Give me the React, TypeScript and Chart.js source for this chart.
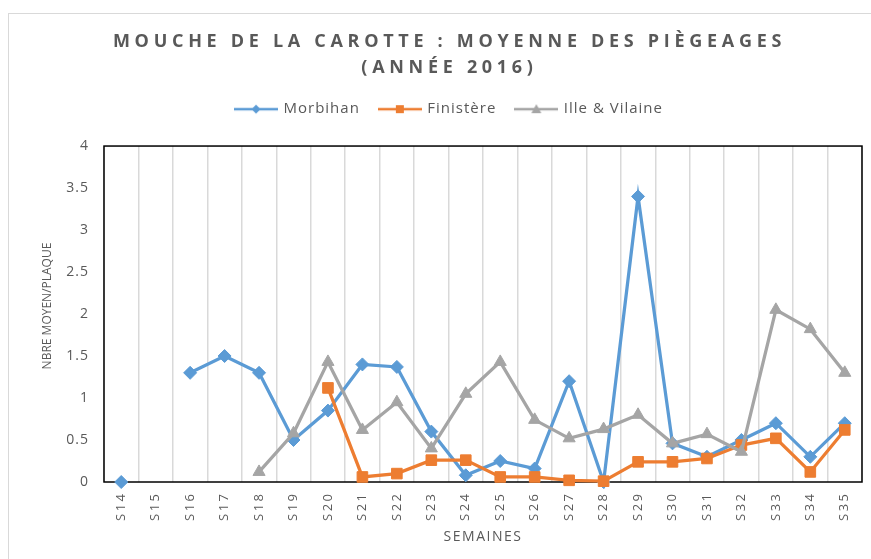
import React, { useEffect, useRef } from 'react';
import { Chart, registerables } from 'chart.js';

Chart.register(...registerables);

// ---- data ----
const titleLines = ['MOUCHE DE LA CAROTTE : MOYENNE DES PIÈGEAGES', '(ANNÉE 2016)'];
const weeks = ['S14', 'S15', 'S16', 'S17', 'S18', 'S19', 'S20', 'S21', 'S22', 'S23', 'S24', 'S25', 'S26', 'S27', 'S28', 'S29', 'S30', 'S31', 'S32', 'S33', 'S34', 'S35'];
const seriesNames = ['Morbihan', 'Finistère', 'Ille & Vilaine'];
const morbihan = [0, null, 1.3, 1.5, 1.3, 0.5, 0.85, 1.4, 1.37, 0.6, 0.08, 0.25, 0.16, 1.2, 0, 3.4, 0.46, 0.3, 0.5, 0.7, 0.3, 0.7];
const finistere = [null, null, null, null, null, null, 1.12, 0.06, 0.1, 0.26, 0.26, 0.06, 0.06, 0.02, 0.01, 0.24, 0.24, 0.28, 0.44, 0.52, 0.12, 0.62];
const illeVilaine = [null, null, null, null, 0.12, 0.58, 1.43, 0.62, 0.95, 0.4, 1.05, 1.43, 0.74, 0.52, 0.63, 0.8, 0.46, 0.57, 0.36, 2.05, 1.82, 1.3];
const yAxisTitle = 'NBRE MOYEN/PLAQUE';
const xAxisTitle = 'SEMAINES';

const BLUE = '#5B9BD5';
const ORANGE = '#ED7D31';
const GRAY = '#A5A5A5';
const TEXT = '#595959';
const FONT = "'Open Sans', sans-serif";

function makeIcon(color: string, shape: string) {
  const c = document.createElement('canvas');
  c.width = 44;
  c.height = 14;
  const g = c.getContext('2d')!;
  g.strokeStyle = color;
  g.fillStyle = color;
  g.lineWidth = 2.5;
  g.beginPath();
  g.moveTo(0, 7);
  g.lineTo(44, 7);
  g.stroke();
  g.beginPath();
  if (shape === 'diamond') {
    g.moveTo(22, 2.5);
    g.lineTo(26.5, 7);
    g.lineTo(22, 11.5);
    g.lineTo(17.5, 7);
    g.closePath();
  } else if (shape === 'square') {
    g.rect(18, 3, 8, 8);
  } else {
    g.moveTo(22, 2);
    g.lineTo(27, 11);
    g.lineTo(17, 11);
    g.closePath();
  }
  g.fill();
  return c;
}

function patch(obj: any, name: string, spacing: string, ctx: any, after?: (o: any) => void, translateY?: number) {
  if (!obj || obj['__patched_' + name]) return;
  const orig = obj[name];
  obj[name] = function (...args: any[]) {
    const prev = ctx.letterSpacing;
    ctx.letterSpacing = spacing;
    if (translateY) {
      ctx.save();
      ctx.translate(0, translateY);
    }
    try {
      const r = orig.apply(this, args);
      if (after) after(this);
      return r;
    } finally {
      if (translateY) ctx.restore();
      ctx.letterSpacing = prev;
    }
  };
  obj['__patched_' + name] = true;
}

const spacingPlugin = {
  id: 'spacingPlugin',
  beforeLayout(chart: any) {
    const ctx = chart.ctx;
    patch(chart.titleBlock, 'draw', '4.7px', ctx);
    patch(chart.legend, 'fit', '1px', ctx, (o: any) => { o.height += 19.4; });
    patch(chart.legend, 'draw', '1px', ctx);
    patch(chart.scales.x, 'drawLabels', '2.5px', ctx);
    patch(chart.scales.x, 'drawTitle', '1.5px', ctx);
    patch(chart.scales.y, 'drawLabels', '1px', ctx);
    patch(chart.scales.y, 'drawTitle', '0px', ctx, undefined, -8);
  },
};

const framePlugin = {
  id: 'framePlugin',
  beforeDatasetsDraw(chart: any) {
    const { ctx, chartArea } = chart;
    ctx.save();
    ctx.strokeStyle = '#000000';
    ctx.lineWidth = 1.5;
    ctx.strokeRect(chartArea.left, chartArea.top, chartArea.right - chartArea.left, chartArea.bottom - chartArea.top);
    ctx.restore();
  },
};

export default function App() {
  const ref = useRef<HTMLCanvasElement>(null);

  useEffect(() => {
    const canvas = ref.current;
    if (!canvas) return;
    Chart.defaults.font.family = FONT;
    const icons = [makeIcon(BLUE, 'diamond'), makeIcon(ORANGE, 'square'), makeIcon(GRAY, 'triangle')];
    const defaultLabels = (Chart.defaults as any).plugins.legend.labels.generateLabels;

    const chart = new Chart(canvas, {
      type: 'line',
      data: {
        labels: weeks,
        datasets: [
          {
            label: seriesNames[0],
            data: morbihan,
            borderColor: BLUE,
            backgroundColor: BLUE,
            borderWidth: 3.25,
            pointStyle: 'rectRot',
            pointRadius: 6.5,
            pointBorderWidth: 1,
            pointBackgroundColor: BLUE,
            pointBorderColor: BLUE,
            tension: 0,
            clip: false,
            order: 2,
          },
          {
            label: seriesNames[1],
            data: finistere,
            borderColor: ORANGE,
            backgroundColor: ORANGE,
            borderWidth: 3.25,
            pointStyle: 'rect',
            pointRadius: 7.5,
            pointBorderWidth: 1,
            pointBackgroundColor: ORANGE,
            pointBorderColor: ORANGE,
            tension: 0,
            clip: false,
            order: 1,
          },
          {
            label: seriesNames[2],
            data: illeVilaine,
            borderColor: GRAY,
            backgroundColor: GRAY,
            borderWidth: 3.25,
            pointStyle: 'triangle',
            pointRadius: 7,
            pointBorderWidth: 1,
            pointBackgroundColor: GRAY,
            pointBorderColor: GRAY,
            tension: 0,
            clip: false,
            order: 0,
          },
        ],
      },
      options: {
        responsive: true,
        maintainAspectRatio: false,
        animation: false,
        layout: { padding: { left: 0, right: 0, top: 0, bottom: 0 } },
        plugins: {
          title: {
            display: true,
            text: titleLines,
            color: TEXT,
            font: { family: FONT, size: 18, weight: 'bold', lineHeight: 1.49 },
            padding: { top: 14, bottom: 0 },
          },
          legend: {
            display: true,
            position: 'top',
            labels: {
              usePointStyle: true,
              pointStyleWidth: 40,
              color: TEXT,
              font: { family: FONT, size: 15 },
              padding: 20,
              generateLabels: (ch: any) => {
                const items = defaultLabels(ch);
                items.sort((a: any, b: any) => a.datasetIndex - b.datasetIndex);
                items.forEach((it: any) => {
                  it.pointStyle = icons[it.datasetIndex];
                });
                return items;
              },
            },
          },
          tooltip: { enabled: false },
        },
        scales: {
          x: {
            type: 'category',
            offset: true,
            grid: { display: true, offset: true, color: '#D9D9D9', lineWidth: 1.5, drawTicks: false },
            border: { display: false },
            ticks: {
              color: TEXT,
              font: { family: FONT, size: 13 },
              minRotation: 90,
              maxRotation: 90,
              autoSkip: false,
              padding: 9.5,
            },
            title: {
              display: true,
              text: xAxisTitle,
              color: TEXT,
              font: { family: FONT, size: 14 },
              padding: { top: 0, bottom: 13.6 },
            },
            afterFit: (s: any) => {
              s.height = 77;
            },
          },
          y: {
            min: 0,
            max: 4,
            ticks: {
              stepSize: 0.5,
              color: TEXT,
              font: { family: FONT, size: 14 },
              padding: 15,
              callback: (v: any) => String(v),
            },
            grid: { display: false, drawTicks: false },
            border: { display: false },
            title: {
              display: true,
              text: yAxisTitle,
              color: TEXT,
              font: { family: FONT, size: 12 },
              padding: { top: 31, bottom: 0 },
            },
            afterFit: (s: any) => {
              s.width = 95;
            },
          },
          spacer: {
            type: 'linear',
            position: 'right',
            display: true,
            ticks: { display: false },
            grid: { display: false, drawTicks: false },
            border: { display: false },
            afterFit: (s: any) => {
              s.width = 28;
            },
          },
        },
      } as any,
      plugins: [spacingPlugin, framePlugin],
    });

    return () => chart.destroy();
  }, []);

  return (
    <div
      style={{
        position: 'fixed',
        left: 8,
        top: 13,
        width: 881,
        height: 545,
        borderLeft: '1px solid #D9D9D9',
        borderTop: '1px solid #D9D9D9',
        background: '#ffffff',
      }}
    >
      <canvas ref={ref} />
    </div>
  );
}
